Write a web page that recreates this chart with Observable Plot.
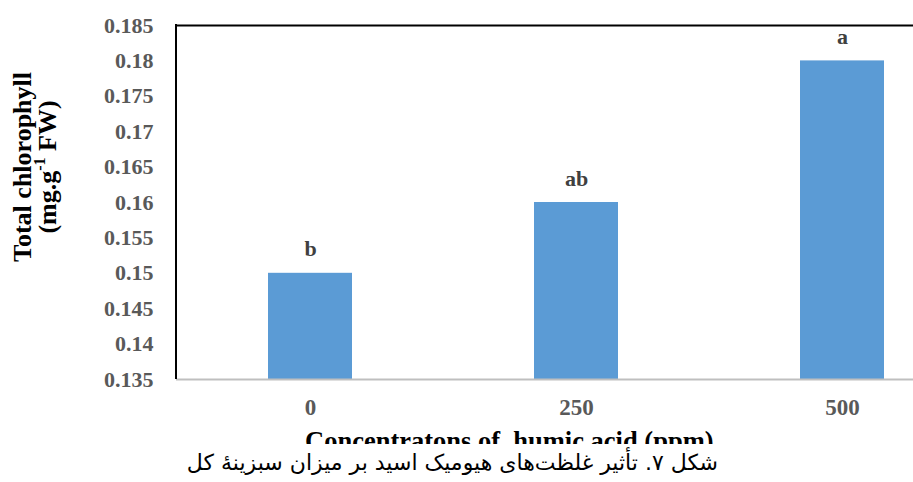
<!DOCTYPE html>
<html><head><meta charset="utf-8">
<script src="https://cdn.jsdelivr.net/npm/d3@7"></script>
<script src="https://cdn.jsdelivr.net/npm/@observablehq/plot@0.6"></script>
<style>
body{margin:0;background:#fff;}
#chart svg{display:block;}
#chart svg text{font-family:'Liberation Serif','Times New Roman',serif !important;}
#caption{width:913px;height:38px;box-sizing:border-box;padding-top:6px;padding-right:195px;text-align:right;font-family:"DejaVu Sans",sans-serif;font-size:22px;line-height:26px;color:#000;white-space:nowrap;}
</style></head><body>
<div id="chart"></div>
<div id="caption" dir="rtl">شکل ۷. تأثیر غلظت‌های هیومیک اسید بر میزان سبزینهٔ کل</div>
<script>
const categories = ["0", "250", "500"];
const values = [0.15, 0.16, 0.18];
const letters = ["b", "ab", "a"];
const yTicks = [0.135, 0.14, 0.145, 0.15, 0.155, 0.16, 0.165, 0.17, 0.175, 0.18, 0.185];
const xTitle = "Concentratons of  humic acid (ppm)";
const yTitle1 = "Total chlorophyll";
const yTitle2 = ["(mg.g", "-1", " FW)"];

const serif = "'Liberation Serif', 'Times New Roman', serif";
const data = categories.map((c, i) => ({c, v: values[i], l: letters[i]}));
const W = 913, H = 444, mL = 176, mT = 25, mB = 65;

const chart = Plot.plot({
  width: W, height: H,
  marginLeft: mL, marginTop: mT, marginBottom: mB, marginRight: 0,
  style: {fontFamily: serif, overflow: "hidden", background: "#fff"},
  x: {domain: categories, range: [176, 976], paddingInner: 0.685, paddingOuter: 0.3425, label: null},
  y: {domain: [0.135, 0.185], label: null},
  marks: [
    Plot.barY(data, {x: "c", y1: 0.135, y2: "v", fill: "#5B9BD5"}),
    Plot.ruleY([0.135], {stroke: "#bfbfbf", strokeWidth: 2}),
    Plot.ruleY([0.185], {stroke: "#000", strokeWidth: 2}),
    Plot.text(data, {x: "c", y: "v", text: "l", dy: -17, lineAnchor: "bottom", fontWeight: "bold", fontSize: 22, fill: "#404040"}),
    Plot.axisY({ticks: yTicks, tickSize: 0, tickPadding: 23, tickFormat: d => String(d), fontSize: 22, fontWeight: "bold", fill: "#595959", label: null}),
    Plot.axisX({tickSize: 0, tickPadding: 19, fontSize: 23, fontWeight: "bold", fill: "#595959", label: null})
  ]
});

const svg = d3.select(chart);
svg.append("line").attr("x1", mL).attr("x2", mL).attr("y1", mT - 1).attr("y2", H - mB)
  .attr("stroke", "#000").attr("stroke-width", 2);

svg.append("text")
  .attr("transform", "translate(22,167) rotate(-90)")
  .attr("text-anchor", "middle").attr("dominant-baseline", "central")
  .attr("font-weight", "bold").attr("font-size", 26)
  .attr("fill", "#000")
  .text(yTitle1);

const t2 = svg.append("text")
  .attr("transform", "translate(47,167) rotate(-90)")
  .attr("text-anchor", "middle").attr("dominant-baseline", "central")
  .attr("font-weight", "bold").attr("font-size", 26)
  .attr("fill", "#000");
t2.append("tspan").text(yTitle2[0]);
t2.append("tspan").attr("dy", -8).attr("font-size", 16).text(yTitle2[1]);
t2.append("tspan").attr("dy", 8).text(yTitle2[2]);

svg.append("text").attr("x", 305).attr("y", 450).attr("text-anchor", "start")
  .attr("font-weight", "bold").attr("font-size", 26.5).attr("fill", "#000")
  .style("white-space", "pre").text(xTitle);

document.getElementById("chart").appendChild(chart);
</script>
</body></html>
